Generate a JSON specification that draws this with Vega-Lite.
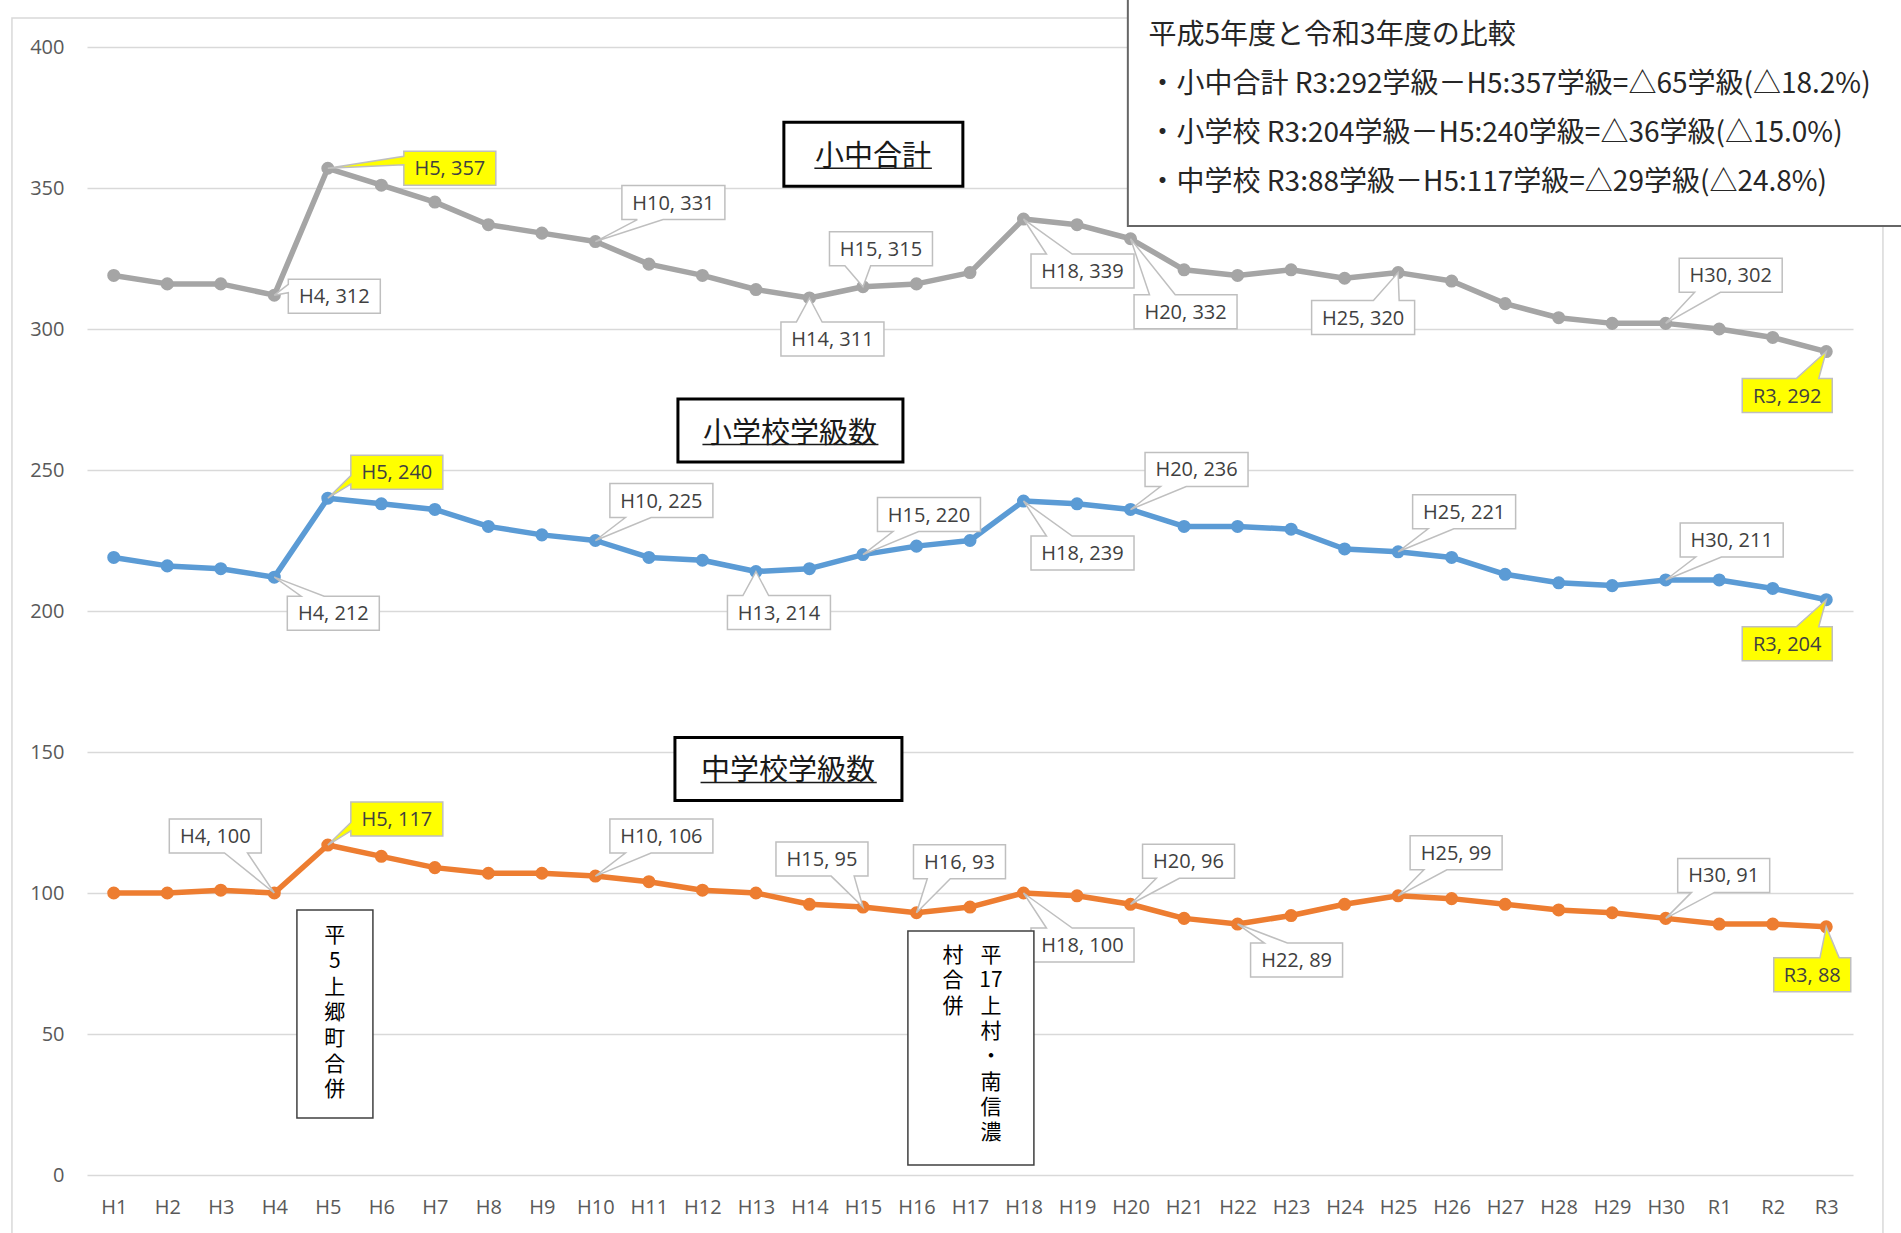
{
  "$schema": "https://vega.github.io/schema/vega-lite/v6.json",
  "width": 1766,
  "height": 1128,
  "autosize": "none",
  "padding": {"left": 87, "top": 47, "right": 48, "bottom": 58},
  "background": "#FFFFFF",
  "config": {
    "view": {"stroke": null},
    "axis": {"domain": false, "ticks": false, "labelFont": "Open Sans", "labelFontSize": 20, "labelColor": "#595959", "grid": false},
    "axisY": {"grid": true, "gridColor": "#D9D9D9", "gridWidth": 1.5, "labelPadding": 23},
    "axisX": {"labelPadding": 22, "labelAngle": 0}
  },
  "data": {"values": [
    {"c":"H1","s":"小中合計","v":319},{"c":"H2","s":"小中合計","v":316},{"c":"H3","s":"小中合計","v":316},{"c":"H4","s":"小中合計","v":312},{"c":"H5","s":"小中合計","v":357},{"c":"H6","s":"小中合計","v":351},{"c":"H7","s":"小中合計","v":345},{"c":"H8","s":"小中合計","v":337},{"c":"H9","s":"小中合計","v":334},{"c":"H10","s":"小中合計","v":331},{"c":"H11","s":"小中合計","v":323},{"c":"H12","s":"小中合計","v":319},{"c":"H13","s":"小中合計","v":314},{"c":"H14","s":"小中合計","v":311},{"c":"H15","s":"小中合計","v":315},{"c":"H16","s":"小中合計","v":316},{"c":"H17","s":"小中合計","v":320},{"c":"H18","s":"小中合計","v":339},{"c":"H19","s":"小中合計","v":337},{"c":"H20","s":"小中合計","v":332},{"c":"H21","s":"小中合計","v":321},{"c":"H22","s":"小中合計","v":319},{"c":"H23","s":"小中合計","v":321},{"c":"H24","s":"小中合計","v":318},{"c":"H25","s":"小中合計","v":320},{"c":"H26","s":"小中合計","v":317},{"c":"H27","s":"小中合計","v":309},{"c":"H28","s":"小中合計","v":304},{"c":"H29","s":"小中合計","v":302},{"c":"H30","s":"小中合計","v":302},{"c":"R1","s":"小中合計","v":300},{"c":"R2","s":"小中合計","v":297},{"c":"R3","s":"小中合計","v":292},
    {"c":"H1","s":"小学校","v":219},{"c":"H2","s":"小学校","v":216},{"c":"H3","s":"小学校","v":215},{"c":"H4","s":"小学校","v":212},{"c":"H5","s":"小学校","v":240},{"c":"H6","s":"小学校","v":238},{"c":"H7","s":"小学校","v":236},{"c":"H8","s":"小学校","v":230},{"c":"H9","s":"小学校","v":227},{"c":"H10","s":"小学校","v":225},{"c":"H11","s":"小学校","v":219},{"c":"H12","s":"小学校","v":218},{"c":"H13","s":"小学校","v":214},{"c":"H14","s":"小学校","v":215},{"c":"H15","s":"小学校","v":220},{"c":"H16","s":"小学校","v":223},{"c":"H17","s":"小学校","v":225},{"c":"H18","s":"小学校","v":239},{"c":"H19","s":"小学校","v":238},{"c":"H20","s":"小学校","v":236},{"c":"H21","s":"小学校","v":230},{"c":"H22","s":"小学校","v":230},{"c":"H23","s":"小学校","v":229},{"c":"H24","s":"小学校","v":222},{"c":"H25","s":"小学校","v":221},{"c":"H26","s":"小学校","v":219},{"c":"H27","s":"小学校","v":213},{"c":"H28","s":"小学校","v":210},{"c":"H29","s":"小学校","v":209},{"c":"H30","s":"小学校","v":211},{"c":"R1","s":"小学校","v":211},{"c":"R2","s":"小学校","v":208},{"c":"R3","s":"小学校","v":204},
    {"c":"H1","s":"中学校","v":100},{"c":"H2","s":"中学校","v":100},{"c":"H3","s":"中学校","v":101},{"c":"H4","s":"中学校","v":100},{"c":"H5","s":"中学校","v":117},{"c":"H6","s":"中学校","v":113},{"c":"H7","s":"中学校","v":109},{"c":"H8","s":"中学校","v":107},{"c":"H9","s":"中学校","v":107},{"c":"H10","s":"中学校","v":106},{"c":"H11","s":"中学校","v":104},{"c":"H12","s":"中学校","v":101},{"c":"H13","s":"中学校","v":100},{"c":"H14","s":"中学校","v":96},{"c":"H15","s":"中学校","v":95},{"c":"H16","s":"中学校","v":93},{"c":"H17","s":"中学校","v":95},{"c":"H18","s":"中学校","v":100},{"c":"H19","s":"中学校","v":99},{"c":"H20","s":"中学校","v":96},{"c":"H21","s":"中学校","v":91},{"c":"H22","s":"中学校","v":89},{"c":"H23","s":"中学校","v":92},{"c":"H24","s":"中学校","v":96},{"c":"H25","s":"中学校","v":99},{"c":"H26","s":"中学校","v":98},{"c":"H27","s":"中学校","v":96},{"c":"H28","s":"中学校","v":94},{"c":"H29","s":"中学校","v":93},{"c":"H30","s":"中学校","v":91},{"c":"R1","s":"中学校","v":89},{"c":"R2","s":"中学校","v":89},{"c":"R3","s":"中学校","v":88}
  ]},
  "encoding": {
    "x": {"field": "c", "type": "ordinal", "title": null,
      "scale": {"type": "point", "padding": 0.5, "domain": ["H1","H2","H3","H4","H5","H6","H7","H8","H9","H10","H11","H12","H13","H14","H15","H16","H17","H18","H19","H20","H21","H22","H23","H24","H25","H26","H27","H28","H29","H30","R1","R2","R3"]},
      "axis": {"labelAngle": 0}},
    "y": {"field": "v", "type": "quantitative", "title": null,
      "scale": {"domain": [0, 400], "nice": false},
      "axis": {"values": [0,50,100,150,200,250,300,350,400]}}
  },
  "layer": [
    {
      "transform": [{"filter": "datum.s === '小中合計' && datum.c === 'H1'"}],
      "encoding": {"x": {"datum": "H1", "type": "ordinal", "title": null}, "y": {"datum": 0, "type": "quantitative", "title": null}},
      "mark": {"type": "point", "shape": "M-2.036,-23.14H35.384V1.5H-2.036Z", "size": 10000, "filled": false, "stroke": "#D9D9D9", "strokeWidth": 1.5, "opacity": 1}
    },
    {
      "mark": {"type": "line", "strokeWidth": 5.5, "strokeJoin": "round"},
      "encoding": {"color": {"field": "s", "type": "nominal", "legend": null, "scale": {"domain": ["小中合計","小学校","中学校"], "range": ["#A5A5A5","#5B9BD5","#ED7D31"]}}}
    },
    {
      "mark": {"type": "circle", "size": 170, "opacity": 1},
      "encoding": {"color": {"field": "s", "type": "nominal", "legend": null, "scale": {"domain": ["小中合計","小学校","中学校"], "range": ["#A5A5A5","#5B9BD5","#ED7D31"]}}}
    },
    {
      "transform": [{"calculate": "datum.c + ', ' + datum.v", "as": "lab"}, {"calculate": "datum.s + datum.c", "as": "k"}],
      "layer": [
        {"transform": [{"filter": "indexof(['小学校H10','小学校H15','小学校H20','小学校H25','小学校H30','中学校H10'], datum.k) >= 0"}],
         "layer": [
          {"mark": {"type": "point", "shape": "M0.29,-1.14H2.35V-0.46H1.114L0,0L0.6,-0.46H0.29Z", "size": 10000, "filled": true, "fill": "#FFFFFF", "stroke": "#BFBFBF", "strokeWidth": 1.5, "opacity": 1}},
          {"mark": {"type": "text", "dx": 66, "dy": -39, "align": "center", "baseline": "middle", "font": "Open Sans", "fontSize": 20, "fill": "#404040"}, "encoding": {"text": {"field": "lab"}}}
        ]},
        {"transform": [{"filter": "datum.k === '小中合計H10'"}],
         "layer": [
          {"mark": {"type": "point", "shape": "M0.53,-1.12H2.59V-0.44H1.354L0,0L0.839,-0.44H0.53Z", "size": 10000, "filled": true, "fill": "#FFFFFF", "stroke": "#BFBFBF", "strokeWidth": 1.5, "opacity": 1}},
          {"mark": {"type": "text", "dx": 78, "dy": -38, "align": "center", "baseline": "middle", "font": "Open Sans", "fontSize": 20, "fill": "#404040"}, "encoding": {"text": {"field": "lab"}}}
        ]},
        {"transform": [{"filter": "datum.k === '小中合計H30'"}],
         "layer": [
          {"mark": {"type": "point", "shape": "M0.27,-1.3H2.33V-0.62H1.094L0,0L0.579,-0.62H0.27Z", "size": 10000, "filled": true, "fill": "#FFFFFF", "stroke": "#BFBFBF", "strokeWidth": 1.5, "opacity": 1}},
          {"mark": {"type": "text", "dx": 65, "dy": -47, "align": "center", "baseline": "middle", "font": "Open Sans", "fontSize": 20, "fill": "#404040"}, "encoding": {"text": {"field": "lab"}}}
        ]},
        {"transform": [{"filter": "indexof(['中学校H20','中学校H25','中学校H30'], datum.k) >= 0"}],
         "layer": [
          {"mark": {"type": "point", "shape": "M0.24,-1.2H2.08V-0.52H0.976L0,0L0.516,-0.52H0.24Z", "size": 10000, "filled": true, "fill": "#FFFFFF", "stroke": "#BFBFBF", "strokeWidth": 1.5, "opacity": 1}},
          {"mark": {"type": "text", "dx": 58, "dy": -42, "align": "center", "baseline": "middle", "font": "Open Sans", "fontSize": 20, "fill": "#404040"}, "encoding": {"text": {"field": "lab"}}}
        ]},
        {"transform": [{"filter": "indexof(['小中合計H18','小学校H18','中学校H18'], datum.k) >= 0"}],
         "layer": [
          {"mark": {"type": "point", "shape": "M0.15,0.7H0.459L0,0L0.974,0.7H2.21V1.38H0.15Z", "size": 10000, "filled": true, "fill": "#FFFFFF", "stroke": "#BFBFBF", "strokeWidth": 1.5, "opacity": 1}},
          {"mark": {"type": "text", "dx": 59, "dy": 53, "align": "center", "baseline": "middle", "font": "Open Sans", "fontSize": 20, "fill": "#404040"}, "encoding": {"text": {"field": "lab"}}}
        ]},
        {"transform": [{"filter": "indexof(['小学校H4','中学校H22'], datum.k) >= 0"}],
         "layer": [
          {"mark": {"type": "point", "shape": "M0.26,0.38H0.536L0,0L0.996,0.38H2.1V1.06H0.26Z", "size": 10000, "filled": true, "fill": "#FFFFFF", "stroke": "#BFBFBF", "strokeWidth": 1.5, "opacity": 1}},
          {"mark": {"type": "text", "dx": 59, "dy": 37, "align": "center", "baseline": "middle", "font": "Open Sans", "fontSize": 20, "fill": "#404040"}, "encoding": {"text": {"field": "lab"}}}
        ]},
        {"transform": [{"filter": "datum.k === '小中合計H20'"}],
         "layer": [
          {"mark": {"type": "point", "shape": "M0.07,1.12H0.379L0,0L0.894,1.12H2.13V1.8H0.07Z", "size": 10000, "filled": true, "fill": "#FFFFFF", "stroke": "#BFBFBF", "strokeWidth": 1.5, "opacity": 1}},
          {"mark": {"type": "text", "dx": 55, "dy": 74, "align": "center", "baseline": "middle", "font": "Open Sans", "fontSize": 20, "fill": "#404040"}, "encoding": {"text": {"field": "lab"}}}
        ]},
        {"transform": [{"filter": "datum.k === '小中合計H4'"}],
         "layer": [
          {"mark": {"type": "point", "shape": "M0.28,-0.32H2.12V0.36H0.28V-0.048L0,0L0.28,-0.218Z", "size": 10000, "filled": true, "fill": "#FFFFFF", "stroke": "#BFBFBF", "strokeWidth": 1.5, "opacity": 1}},
          {"mark": {"type": "text", "dx": 60, "dy": 2, "align": "center", "baseline": "middle", "font": "Open Sans", "fontSize": 20, "fill": "#404040"}, "encoding": {"text": {"field": "lab"}}}
        ]},
        {"transform": [{"filter": "indexof(['小中合計H14','小学校H13'], datum.k) >= 0"}],
         "layer": [
          {"mark": {"type": "point", "shape": "M-0.57,0.48H-0.261L0,0L0.254,0.48H1.49V1.16H-0.57Z", "size": 10000, "filled": true, "fill": "#FFFFFF", "stroke": "#BFBFBF", "strokeWidth": 1.5, "opacity": 1}},
          {"mark": {"type": "text", "dx": 23, "dy": 42, "align": "center", "baseline": "middle", "font": "Open Sans", "fontSize": 20, "fill": "#404040"}, "encoding": {"text": {"field": "lab"}}}
        ]},
        {"transform": [{"filter": "datum.k === '小中合計H15'"}],
         "layer": [
          {"mark": {"type": "point", "shape": "M-0.67,-1.1H1.39V-0.42H0.154L0,0L-0.361,-0.42H-0.67Z", "size": 10000, "filled": true, "fill": "#FFFFFF", "stroke": "#BFBFBF", "strokeWidth": 1.5, "opacity": 1}},
          {"mark": {"type": "text", "dx": 18, "dy": -37, "align": "center", "baseline": "middle", "font": "Open Sans", "fontSize": 20, "fill": "#404040"}, "encoding": {"text": {"field": "lab"}}}
        ]},
        {"transform": [{"filter": "datum.k === '中学校H16'"}],
         "layer": [
          {"mark": {"type": "point", "shape": "M-0.06,-1.36H1.78V-0.68H0.676L0,0L0.216,-0.68H-0.06Z", "size": 10000, "filled": true, "fill": "#FFFFFF", "stroke": "#BFBFBF", "strokeWidth": 1.5, "opacity": 1}},
          {"mark": {"type": "text", "dx": 43, "dy": -50, "align": "center", "baseline": "middle", "font": "Open Sans", "fontSize": 20, "fill": "#404040"}, "encoding": {"text": {"field": "lab"}}}
        ]},
        {"transform": [{"filter": "datum.k === '小中合計H25'"}],
         "layer": [
          {"mark": {"type": "point", "shape": "M-1.73,0.56H-0.494L0,0L0.021,0.56H0.33V1.24H-1.73Z", "size": 10000, "filled": true, "fill": "#FFFFFF", "stroke": "#BFBFBF", "strokeWidth": 1.5, "opacity": 1}},
          {"mark": {"type": "text", "dx": -35, "dy": 46, "align": "center", "baseline": "middle", "font": "Open Sans", "fontSize": 20, "fill": "#404040"}, "encoding": {"text": {"field": "lab"}}}
        ]},
        {"transform": [{"filter": "datum.k === '中学校H4'"}],
         "layer": [
          {"mark": {"type": "point", "shape": "M-2.1,-1.48H-0.26V-0.8H-0.536L0,0L-0.996,-0.8H-2.1Z", "size": 10000, "filled": true, "fill": "#FFFFFF", "stroke": "#BFBFBF", "strokeWidth": 1.5, "opacity": 1}},
          {"mark": {"type": "text", "dx": -59, "dy": -56, "align": "center", "baseline": "middle", "font": "Open Sans", "fontSize": 20, "fill": "#404040"}, "encoding": {"text": {"field": "lab"}}}
        ]},
        {"transform": [{"filter": "datum.k === '中学校H15'"}],
         "layer": [
          {"mark": {"type": "point", "shape": "M-1.74,-1.3H0.1V-0.62H-0.176L0,0L-0.636,-0.62H-1.74Z", "size": 10000, "filled": true, "fill": "#FFFFFF", "stroke": "#BFBFBF", "strokeWidth": 1.5, "opacity": 1}},
          {"mark": {"type": "text", "dx": -41, "dy": -47, "align": "center", "baseline": "middle", "font": "Open Sans", "fontSize": 20, "fill": "#404040"}, "encoding": {"text": {"field": "lab"}}}
        ]},
        {"transform": [{"filter": "datum.k === '小中合計H5'"}],
         "layer": [
          {"mark": {"type": "point", "shape": "M1.52,-0.34H3.36V0.34H1.52V-0.068L0,0L1.52,-0.238Z", "size": 10000, "filled": true, "fill": "#FFFF00", "stroke": "#BFBFBF", "strokeWidth": 1.5, "opacity": 1}},
          {"mark": {"type": "text", "dx": 122, "dy": 1, "align": "center", "baseline": "middle", "font": "Open Sans", "fontSize": 20, "fill": "#404040"}, "encoding": {"text": {"field": "lab"}}}
        ]},
        {"transform": [{"filter": "indexof(['小学校H5','中学校H5'], datum.k) >= 0"}],
         "layer": [
          {"mark": {"type": "point", "shape": "M0.46,-0.86H2.3V-0.18H0.46V-0.282L0,0L0.46,-0.452Z", "size": 10000, "filled": true, "fill": "#FFFF00", "stroke": "#BFBFBF", "strokeWidth": 1.5, "opacity": 1}},
          {"mark": {"type": "text", "dx": 69, "dy": -25, "align": "center", "baseline": "middle", "font": "Open Sans", "fontSize": 20, "fill": "#404040"}, "encoding": {"text": {"field": "lab"}}}
        ]},
        {"transform": [{"filter": "indexof(['小中合計R3','小学校R3'], datum.k) >= 0"}],
         "layer": [
          {"mark": {"type": "point", "shape": "M-1.68,0.54H-0.6L0,0L-0.15,0.54H0.12V1.22H-1.68Z", "size": 10000, "filled": true, "fill": "#FFFF00", "stroke": "#BFBFBF", "strokeWidth": 1.5, "opacity": 1}},
          {"mark": {"type": "text", "dx": -39, "dy": 45, "align": "center", "baseline": "middle", "font": "Open Sans", "fontSize": 20, "fill": "#404040"}, "encoding": {"text": {"field": "lab"}}}
        ]},
        {"transform": [{"filter": "datum.k === '中学校R3'"}],
         "layer": [
          {"mark": {"type": "point", "shape": "M-1.05,0.62H-0.126L0,0L0.259,0.62H0.49V1.3H-1.05Z", "size": 10000, "filled": true, "fill": "#FFFF00", "stroke": "#BFBFBF", "strokeWidth": 1.5, "opacity": 1}},
          {"mark": {"type": "text", "dx": -14, "dy": 49, "align": "center", "baseline": "middle", "font": "Open Sans", "fontSize": 20, "fill": "#404040"}, "encoding": {"text": {"field": "lab"}}}
        ]}
      ]
    },
    {
      "transform": [{"filter": "datum.s === '小中合計' && datum.c === 'H1'"}],
      "layer": [
        {
          "encoding": {"x": {"datum": "H15", "type": "ordinal", "title": null}, "y": {"datum": 362, "type": "quantitative", "title": null}},
          "layer": [
            {"mark": {"type": "point", "shape": "M-1.582,-0.64H1.998V0.64H-1.582Z", "size": 10000, "filled": true, "fill": "#FFFFFF", "stroke": "#000000", "strokeWidth": 3, "opacity": 1}},
            {"mark": {"type": "point", "shape": "M-0.972,0.28H1.378", "size": 10000, "filled": false, "stroke": "#1a1a1a", "strokeWidth": 1.5, "opacity": 1}},
            {"mark": {"type": "text", "text": "小中合計", "dx": 10, "dy": 3, "align": "center", "baseline": "middle", "font": "Noto Sans CJK JP", "fontSize": 29, "fill": "#1a1a1a"}}
          ]
        },
        {
          "encoding": {"x": {"datum": "H13", "type": "ordinal", "title": null}, "y": {"datum": 264, "type": "quantitative", "title": null}},
          "layer": [
            {"mark": {"type": "point", "shape": "M-1.56,-0.63H2.94V0.63H-1.56Z", "size": 10000, "filled": true, "fill": "#FFFFFF", "stroke": "#000000", "strokeWidth": 3, "opacity": 1}},
            {"mark": {"type": "point", "shape": "M-1.07,0.28H2.45", "size": 10000, "filled": false, "stroke": "#1a1a1a", "strokeWidth": 1.5, "opacity": 1}},
            {"mark": {"type": "text", "text": "小学校学級数", "dx": 34, "dy": 3, "align": "center", "baseline": "middle", "font": "Noto Sans CJK JP", "fontSize": 29, "fill": "#1a1a1a"}}
          ]
        },
        {
          "encoding": {"x": {"datum": "H13", "type": "ordinal", "title": null}, "y": {"datum": 144, "type": "quantitative", "title": null}},
          "layer": [
            {"mark": {"type": "point", "shape": "M-1.62,-0.63H2.92V0.63H-1.62Z", "size": 10000, "filled": true, "fill": "#FFFFFF", "stroke": "#000000", "strokeWidth": 3, "opacity": 1}},
            {"mark": {"type": "point", "shape": "M-1.108,0.27H2.416", "size": 10000, "filled": false, "stroke": "#1a1a1a", "strokeWidth": 1.5, "opacity": 1}},
            {"mark": {"type": "text", "text": "中学校学級数", "dx": 32, "dy": 2, "align": "center", "baseline": "middle", "font": "Noto Sans CJK JP", "fontSize": 29, "fill": "#1a1a1a"}}
          ]
        },
        {
          "encoding": {"x": {"datum": "H5", "type": "ordinal", "title": null}, "y": {"datum": 57, "type": "quantitative", "title": null}},
          "layer": [
            {"mark": {"type": "point", "shape": "M-0.618,-2.086H0.902V2.074H-0.618Z", "size": 10000, "filled": true, "fill": "#FFFFFF", "stroke": "#404040", "strokeWidth": 1.5, "opacity": 1}},
            {"mark": {"type": "text", "text": ["平","5","上","郷","町","合","併"], "lineHeight": 25.7, "dx": 7, "dy": -78, "align": "center", "baseline": "middle", "font": "Noto Sans CJK JP", "fontSize": 21, "fill": "#000000"}}
          ]
        },
        {
          "encoding": {"x": {"datum": "H17", "type": "ordinal", "title": null}, "y": {"datum": 45, "type": "quantitative", "title": null}},
          "layer": [
            {"mark": {"type": "point", "shape": "M-1.242,-2.342H1.278V2.338H-1.242Z", "size": 10000, "filled": true, "fill": "#FFFFFF", "stroke": "#404040", "strokeWidth": 1.5, "opacity": 1}},
            {"mark": {"type": "text", "text": ["平","17","上","村","・","南","信","濃"], "lineHeight": 25.3, "dx": 21, "dy": -92, "align": "center", "baseline": "middle", "font": "Noto Sans CJK JP", "fontSize": 21, "fill": "#000000"}},
            {"mark": {"type": "text", "text": ["村","合","併"], "lineHeight": 25.3, "dx": -17, "dy": -92, "align": "center", "baseline": "middle", "font": "Noto Sans CJK JP", "fontSize": 21, "fill": "#000000"}}
          ]
        },
        {
          "encoding": {"x": {"datum": "H20", "type": "ordinal", "title": null}, "y": {"datum": 380, "type": "quantitative", "title": null}},
          "layer": [
            {"mark": {"type": "point", "shape": "M-0.054,-2.308H15.68V2.452H-0.054Z", "size": 10000, "filled": true, "fill": "#FFFFFF", "stroke": "#666666", "strokeWidth": 2, "opacity": 1}},
            {"mark": {"type": "text", "text": ["平成5年度と令和3年度の比較", "・小中合計 R3:292学級－H5:357学級=△65学級(△18.2%)", "・小学校 R3:204学級－H5:240学級=△36学級(△15.0%)", "・中学校 R3:88学級－H5:117学級=△29学級(△24.8%)"], "lineHeight": 49, "dx": 18, "dy": -67, "align": "left", "baseline": "middle", "font": "Noto Sans CJK JP", "fontSize": 28, "fill": "#262626"}}
          ]
        }
      ]
    }
  ]
}
